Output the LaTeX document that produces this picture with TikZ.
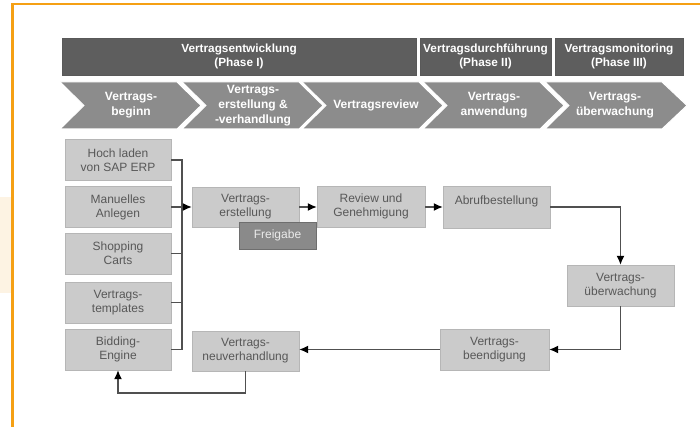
\documentclass[tikz,border=0pt]{standalone}
\usepackage{fontspec}
\setmainfont{Liberation Sans}
\usetikzlibrary{arrows.meta}

\definecolor{framecol}{RGB}{245,160,20}
\definecolor{creamcol}{RGB}{253,243,227}
\definecolor{phasecol}{RGB}{94,94,94}
\definecolor{chevcol}{RGB}{140,140,140}
\definecolor{boxcol}{RGB}{203,203,203}
\definecolor{boxline}{RGB}{182,182,182}
\definecolor{freecol}{RGB}{138,138,138}
\definecolor{txtcol}{RGB}{88,88,88}
\definecolor{linecol}{RGB}{80,80,80}

\begin{document}
\begin{tikzpicture}[x=1pt,y=-1pt,
    phase/.style={fill=phasecol,draw=black!65,text=white,align=center,inner sep=0pt,
      minimum height=37pt,font=\fontsize{11.8}{14.5}\selectfont\bfseries},
    chev/.style={fill=chevcol,draw=white,line width=1pt},
    chevtext/.style={text=white,align=center,inner sep=0pt,
      font=\fontsize{12}{15}\selectfont\bfseries},
    box/.style={fill=boxcol,draw=boxline,text=txtcol,align=center,inner sep=0pt,
      minimum width=106pt,minimum height=41pt,font=\fontsize{12}{14}\selectfont},
    flow/.style={draw=linecol,line width=1.3pt},
    arr/.style={flow,-{Latex[length=9pt,width=8pt,color=black]}}]
    \useasboundingbox (0,0) rectangle (700,427);

    \fill[creamcol] (0,197) rectangle (10.5,293);
    \draw[framecol,line width=2.5pt] (12.5,427) -- (12.5,4) -- (700,4);

    \node[phase,minimum width=354pt] (ph1) at (239,56.5) {Vertragsentwicklung\\(Phase I)};
    \node[phase,minimum width=131pt] (ph2) at (485.5,56.5) {Vertragsdurchführung\\(Phase II)};
    \node[phase,minimum width=128pt] (ph3) at (619,56.5) {Vertragsmonitoring\\(Phase III)};

    \draw[chev] (60,82) -- (177,82) -- (201,105.5) -- (177,129) -- (60,129) -- (84,105.5) -- cycle;
    \draw[chev] (182,82) -- (299,82) -- (323,105.5) -- (299,129) -- (182,129) -- (206,105.5) -- cycle;
    \draw[chev] (302,82) -- (419,82) -- (443,105.5) -- (419,129) -- (302,129) -- (326,105.5) -- cycle;
    \draw[chev] (423,82) -- (540,82) -- (564,105.5) -- (540,129) -- (423,129) -- (447,105.5) -- cycle;
    \draw[chev] (545,82) -- (662,82) -- (687,105.5) -- (662,129) -- (545,129) -- (569,105.5) -- cycle;
    \node[chevtext] (c1) at (131,105.5) {Vertrags-\\beginn};
    \node[chevtext] (c2) at (253,106) {Vertrags-\\erstellung \&\\-verhandlung};
    \node[chevtext] (c3) at (376,105.5) {Vertragsreview};
    \node[chevtext] (c4) at (494,105.5) {Vertrags-\\anwendung};
    \node[chevtext] (c5) at (615,105.5) {Vertrags-\\überwachung};

    \node[box] (hoch) at (118,160) {Hoch laden\\von SAP ERP};
    \node[box] (manuell) at (118,207) {Manuelles\\Anlegen};
    \node[box] (shopping) at (118,253.5) {Shopping\\Carts};
    \node[box] (templates) at (118,302.5) {Vertrags-\\templates};
    \node[box] (bidding) at (118,349.5) {Bidding-\\Engine};

    \node[box,minimum width=107pt,minimum height=40pt] (erstellung) at (245.5,207) {Vertrags-\\erstellung};
    \node[box,minimum width=108pt] (review) at (371,206.5) {Review und\\Genehmigung};
    \node[box,minimum width=107pt,minimum height=42pt] (abruf) at (496.5,207) {Abrufbestellung\\\phantom{X}};
    \node[box,minimum width=107pt] (ueberwachung) at (620.5,285.5) {Vertrags-\\überwachung};
    \node[box,minimum width=109pt] (beendigung) at (494.5,349.5) {Vertrags-\\beendigung};
    \node[box,minimum width=107pt,minimum height=40pt] (neuverh) at (245.5,351) {Vertrags-\\neuverhandlung};
    \node[box,fill=freecol,draw=freecol!80!black,text=white!92!black,minimum width=77pt,
      minimum height=27pt] (freigabe) at (277.5,235.5) {Freigabe};

    \coordinate (join) at (182,207);
    \coordinate (loop) at (245.5,393);

    \draw[flow] (hoch.east) -| (join) |- (bidding.east);
    \draw[flow] (manuell.east) -- (join);
    \draw[flow] (shopping.east) -- (shopping.east -| join);
    \draw[flow] (templates.east) -- (templates.east -| join);
    \draw[arr] (join) -- (erstellung.west);
    \draw[arr] (erstellung.east) -- (review.west |- erstellung.east);
    \draw[arr] (review.east |- erstellung.east) -- (abruf.west |- erstellung.east);
    \draw[arr] (abruf.east) -| (ueberwachung.north);
    \draw[arr] (ueberwachung.south) |- (beendigung.east);
    \draw[arr] (beendigung.west) -- (neuverh.east |- beendigung.west);
    \draw[arr] (neuverh.south) |- (loop) -| (bidding.south);
\end{tikzpicture}
\end{document}
